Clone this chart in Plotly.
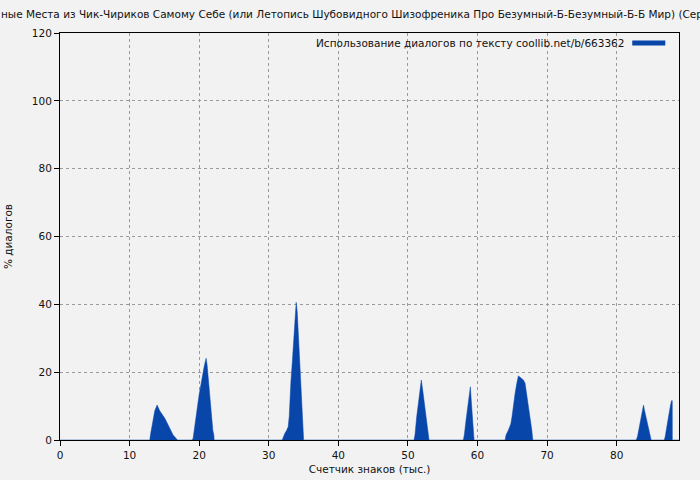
import plotly.graph_objects as go

# Character counter (thousands) and dialogue share (%)
peak_x = [
    [12.90, 13.04, 13.38, 13.62, 13.95, 14.33, 15.06, 15.78, 16.25, 16.88],
    [18.98, 19.13, 19.27, 19.42, 19.56, 19.70, 19.85, 19.99, 20.14, 20.34, 20.52, 20.71, 20.91, 21.00,
     21.14, 21.29, 21.43, 21.57, 21.77, 21.96, 22.11, 22.15],
    [31.93, 32.07, 32.32, 32.56, 32.79, 32.94, 33.04, 33.18, 33.37, 33.51, 33.65, 33.80, 33.94, 34.09,
     34.23, 34.37, 34.57, 34.76, 34.95, 35.01],
    [50.87, 51.01, 51.26, 51.49, 51.73, 51.92, 52.12, 52.31, 52.50, 52.70, 52.93, 53.03],
    [57.96, 58.10, 58.35, 58.59, 58.78, 58.97, 59.11, 59.26, 59.40, 59.50],
    [63.96, 64.10, 64.43, 64.78, 64.96, 65.15, 65.40, 65.64, 65.87, 66.12, 66.36, 66.59, 66.83, 66.98,
     67.17, 67.37, 67.56, 67.80, 67.94],
    [82.80, 82.99, 83.19, 83.37, 83.56, 83.70, 83.85, 83.99, 84.19, 84.38, 84.57, 84.81, 84.95],
    [86.83, 86.97, 87.16, 87.36, 87.55, 87.73, 87.88, 87.98, 87.99],
]
peak_y = [
    [0, 2.0, 6.4, 8.6, 10.3, 8.6, 6.4, 3.2, 1.5, 0],
    [0, 0.5, 2.9, 5.4, 7.4, 9.3, 11.3, 13.3, 15.2, 17.2, 19.7, 21.6, 23.4, 24.1,
     22.1, 18.7, 14.7, 10.8, 6.9, 2.9, 1.5, 0],
    [0, 1.0, 2.0, 2.8, 3.9, 6.9, 12.3, 17.2, 22.6, 27.5, 32.7, 37.8, 40.6, 37.8,
     31.9, 25.6, 19.7, 8.4, 2.9, 0],
    [0, 1.5, 6.9, 11.3, 15.2, 17.7, 14.7, 11.3, 7.9, 4.4, 1.5, 0],
    [0, 1.5, 5.9, 10.3, 13.3, 15.7, 11.3, 5.9, 1.5, 0],
    [0, 1.5, 2.9, 4.7, 6.9, 10.8, 13.8, 16.7, 18.9, 18.5, 18.0, 17.7, 16.7, 14.7,
     11.8, 8.8, 5.9, 2.9, 0],
    [0, 1.0, 3.4, 5.4, 7.4, 9.3, 10.3, 8.8, 6.9, 4.9, 2.9, 1.0, 0],
    [0, 1.0, 3.4, 6.4, 8.4, 10.3, 11.6, 11.6, 0],
]
x_ticks = [0, 10, 20, 30, 40, 50, 60, 70, 80]
y_ticks = [0, 20, 40, 60, 80, 100, 120]
x_max = 88.95
y_max = 120

title_text = ("ные Места из Чик-Чириков Самому Себе (или Летопись Шубовидного Шизофреника "
              "Про Безумный-Б-Безумный-Б-Б Мир) (Серия)")
legend_text = "Использование диалогов по тексту coollib.net/b/663362"
x_title = "Счетчик знаков (тыс.)"
y_title = "% диалогов"

color = "#0846aa"
bg = "#f2f2f2"
font = "DejaVu Sans"
fs = 10.5
plot_w = 618.4
plot_h = 407

xs, ys = [0], [0]
for px_, py_ in zip(peak_x, peak_y):
    xs += px_
    ys += py_
xs.append(x_max)
ys.append(0)

fig = go.Figure()
fig.add_trace(go.Scatter(
    x=xs, y=ys, mode="lines", fill="tozeroy",
    line=dict(color=color, width=0.5), fillcolor=color,
    showlegend=False, hoverinfo="skip",
))

axis_common = dict(
    showline=True, linecolor="black", linewidth=1, mirror=True,
    ticks="outside", ticklen=5, tickcolor="black", tickwidth=1,
    showgrid=True, gridcolor="#9a9a9a", griddash="dot", gridwidth=1,
    zeroline=False, automargin=False,
    tickfont=dict(family=font, size=fs, color="#111"),
)
fig.update_xaxes(range=[0, x_max], tickvals=x_ticks,
                 title=dict(text=x_title, font=dict(family=font, size=fs, color="#111"), standoff=6),
                 **axis_common)
fig.update_yaxes(range=[0, y_max], tickvals=y_ticks,
                 title=dict(text=y_title, font=dict(family=font, size=fs, color="#111"), standoff=17),
                 **axis_common)

fig.add_annotation(text=title_text, xref="paper", yref="paper", x=-61/plot_w, y=1,
                   xanchor="left", yanchor="bottom", yshift=11, showarrow=False,
                   font=dict(family=font, size=fs, color="#111"))
fig.add_annotation(text=legend_text, xref="paper", yref="paper", x=(626-60.3)/plot_w, y=1,
                   xanchor="right", yanchor="middle", yshift=-10, showarrow=False,
                   font=dict(family=font, size=fs, color="#111"))
fig.add_shape(type="line", xref="paper", yref="paper",
              x0=(632-60.3)/plot_w, x1=(665-60.3)/plot_w, y0=(440-43)/plot_h, y1=(440-43)/plot_h,
              line=dict(color=color, width=5))

fig.update_layout(
    width=700, height=480,
    margin=dict(l=60, r=21, t=33, b=40, autoexpand=False),
    paper_bgcolor=bg, plot_bgcolor=bg,
    font=dict(family=font, size=fs, color="#111"),
    showlegend=False,
)
fig.write_html(
    "out.html",
    config={"displayModeBar": False, "staticPlot": True},
    post_script="document.body.style.margin='0';document.body.style.padding='0';"
                "document.body.style.overflow='hidden';",
)
